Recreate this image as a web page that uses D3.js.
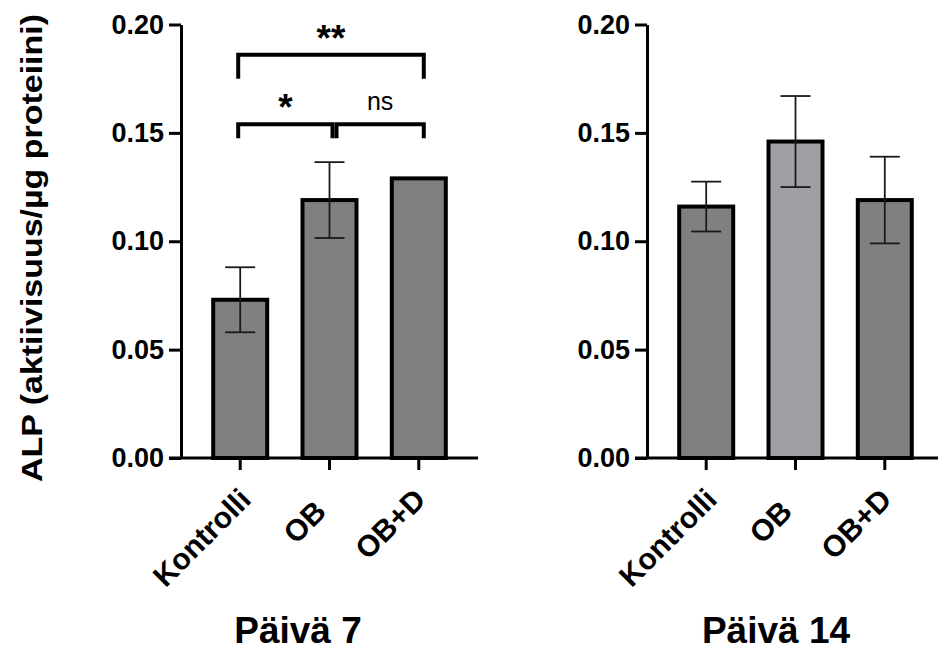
<!DOCTYPE html>
<html>
<head>
<meta charset="utf-8">
<script src="https://cdn.jsdelivr.net/npm/d3@7"></script>
<style>
  body { margin: 0; background: #fff; }
  svg { display: block; }
  text { font-family: "Liberation Sans", Arial, sans-serif; }
</style>
</head>
<body>
<div id="chart"></div>
<script>
// data
var categories = ["Kontrolli", "OB", "OB+D"];
var day7Means = [0.073, 0.119, 0.129];
var day7Err = [0.015, 0.0175, 0];
var day14Means = [0.116, 0.146, 0.119];
var day14Err = [0.0115, 0.021, 0.020];
var panelTitles = ["Päivä 7", "Päivä 14"];
var yTicks = [0, 0.05, 0.10, 0.15, 0.20];
var yLabel = "ALP (aktiivisuus/µg proteiini)";
// significance brackets for day 7: from index, to index, bar height, label
var sigFrom = [0, 1, 0];
var sigTo = [1, 2, 2];
var sigLevel = [0.154, 0.154, 0.186];
var sigLabels = ["*", "ns", "**"];

var W = 938, H = 650;
var plotW = 297, plotTop = 24.5, plotBottom = 458;

var svg = d3.select("#chart").append("svg")
    .attr("width", W)
    .attr("height", H);

var y = d3.scaleLinear().domain([0, 0.2]).range([plotBottom, plotTop]);
var x = d3.scaleBand().domain(categories).range([0, plotW])
    .paddingInner(0).paddingOuter(0.163);
var barW = 54;

// small nudges for the rotated category labels, as placed in the original
var labelNudgeX = [0, -14, -4];
var labelNudgeY = [0, 12, 0];

var panels = [
    {x0: 181, means: day7Means, err: day7Err, fills: ["#808080", "#808080", "#808080"], title: panelTitles[0], titleX: 298},
    {x0: 647, means: day14Means, err: day14Err, fills: ["#808080", "#a0a0a4", "#808080"], title: panelTitles[1], titleX: 776}
];

var cx = function(i) { return x(categories[i]) + x.bandwidth() / 2; };

function drawPanel(p) {
    var g = svg.append("g").attr("transform", "translate(" + p.x0 + ",0)");

    // bars
    g.selectAll("rect.bar")
        .data(p.means).enter()
        .append("rect")
        .attr("class", "bar")
        .attr("x", function(d, i) { return cx(i) - barW / 2; })
        .attr("y", function(d) { return y(d); })
        .attr("width", barW)
        .attr("height", function(d) { return y(0) - y(d); })
        .style("fill", function(d, i) { return p.fills[i]; })
        .style("stroke", "#000")
        .style("stroke-width", 4);

    // error bars
    p.means.forEach(function(m, i) {
        var e = p.err[i];
        if (!(e > 0)) return;
        var eg = g.append("g").attr("class", "err");
        eg.append("line")
            .attr("x1", cx(i)).attr("x2", cx(i))
            .attr("y1", y(m - e)).attr("y2", y(m + e));
        [-1, 1].forEach(function(s) {
            eg.append("line")
                .attr("x1", cx(i) - 15).attr("x2", cx(i) + 15)
                .attr("y1", y(m + s * e)).attr("y2", y(m + s * e));
        });
        eg.selectAll("line")
            .style("stroke", "#1a1a1a")
            .style("stroke-width", 1.8);
    });

    // y axis
    var yAxis = g.append("g")
        .call(d3.axisLeft(y).tickValues(yTicks).tickFormat(d3.format(".2f"))
            .tickSize(12).tickSizeOuter(0).tickPadding(5));
    yAxis.selectAll("path, line").style("stroke", "#000").style("stroke-width", 3);
    yAxis.selectAll("text")
        .style("font-size", "27px")
        .style("font-weight", "bold")
        .style("fill", "#000");

    // x axis
    var xAxis = g.append("g")
        .attr("transform", "translate(0," + plotBottom + ")")
        .call(d3.axisBottom(x).tickSize(12).tickSizeOuter(0));
    xAxis.selectAll("path, line").style("stroke", "#000").style("stroke-width", 3);
    xAxis.selectAll("text")
        .attr("x", 0)
        .attr("y", 0)
        .attr("dy", "0.35em")
        .attr("transform", function(d, i) {
            return "translate(" + (5 + labelNudgeX[i]) + "," + (36 + labelNudgeY[i]) + ") rotate(-45)";
        })
        .style("text-anchor", "end")
        .style("font-size", "30px")
        .style("font-weight", "bold")
        .style("fill", "#000");
    xAxis.select(".domain").attr("d", "M-12,0H" + plotW);

    // panel title
    svg.append("text")
        .attr("x", p.titleX)
        .attr("y", 643)
        .attr("text-anchor", "middle")
        .style("font-size", "37px")
        .style("font-weight", "bold")
        .text(p.title);

    return g;
}

var g7 = drawPanel(panels[0]);
drawPanel(panels[1]);

// significance brackets on day 7
sigLabels.forEach(function(lab, k) {
    var x1 = cx(sigFrom[k]) - 2, x2 = cx(sigTo[k]) + 5;
    if (k === 0) x2 = cx(sigTo[k]) + 3;
    if (k === 1) x1 = cx(sigFrom[k]) + 7;
    var yy = y(sigLevel[k]);
    var leg = (k === 2) ? 24 : 14;
    g7.append("path")
        .attr("d", "M" + x1 + "," + (yy + leg) + "V" + yy + "H" + x2 + "V" + (yy + leg))
        .style("fill", "none")
        .style("stroke", "#000")
        .style("stroke-width", 4);
    var isNs = lab === "ns";
    g7.append("text")
        .attr("x", (x1 + x2) / 2)
        .attr("y", isNs ? yy - 14 : yy - 4)
        .attr("text-anchor", "middle")
        .style("font-size", isNs ? "25px" : "37px")
        .style("font-weight", isNs ? "normal" : "bold")
        .text(lab);
});

// y axis title
svg.append("text")
    .attr("transform", "translate(42,248) rotate(-90)")
    .attr("text-anchor", "middle")
    .attr("textLength", 468)
    .attr("lengthAdjust", "spacingAndGlyphs")
    .style("font-size", "30px")
    .style("font-weight", "bold")
    .text(yLabel);
</script>
</body>
</html>
